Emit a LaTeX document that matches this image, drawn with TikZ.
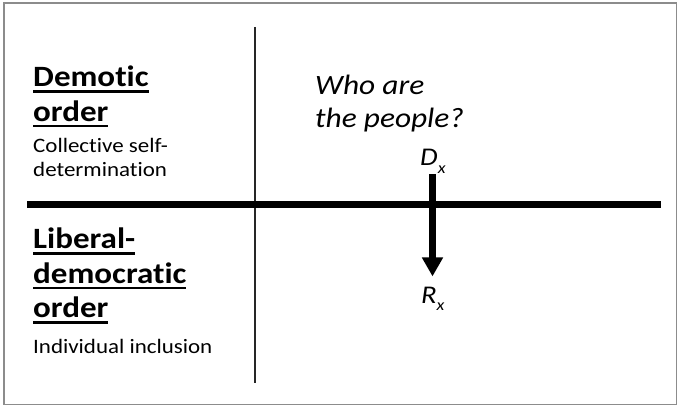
\documentclass[tikz,border=0pt]{standalone}
\usepackage{fontspec}
\setmainfont{Carlito}[FakeStretch=1.12,Ligatures={NoCommon}]
\usetikzlibrary{arrows.meta,positioning}
\newcommand{\ulword}[1]{\setbox0\hbox{#1}\rlap{\rule[-5.8pt]{\wd0}{2.6pt}}\box0}
\newcommand{\subidx}[1]{\raisebox{-7pt}{\fontsize{16}{16}\selectfont #1}}

\begin{document}
\begin{tikzpicture}[x=1pt,y=-1pt,
 txt/.style={inner sep=0pt,align=left},
 hdr/.style={txt,font=\fontsize{29.5}{34.5}\selectfont\bfseries},
 sub/.style={txt,font=\fontsize{20.5}{24}\selectfont},
 ask/.style={txt,font=\fontsize{28}{33}\selectfont\itshape},
 var/.style={inner sep=0pt,font=\fontsize{25.5}{30}\selectfont\itshape},
 flow/.style={line width=7pt,-{Triangle[width=20pt,length=19pt]}}]
 \useasboundingbox (0,0) rectangle (679,406);
 \draw[black!45,line width=1.2pt] (4,3) rectangle (676.5,404.5);
 % axes of the table
 \coordinate (vtop) at (255,27);
 \coordinate (vbot) at (255,383);
 \coordinate (hl) at (27,204.5);
 \coordinate (hr) at (661,204.5);
 \coordinate (cross) at (432.5,204.5);
 \draw[black!85,line width=1.8pt] (vtop)--(vbot);
 \draw[line width=6.5pt] (hl)--(hr);
 % row labels
 \node[hdr,anchor=north west] (demhd) at (33,66) {\ulword{Demotic}\\\ulword{order}};
 \node[sub,below right=11pt and 0pt of demhd.south west] (demsub) {Collective self-\\determination};
 \node[hdr,anchor=north west] (libhd) at (33,228) {\ulword{Liberal-}\\\ulword{democratic}\\\ulword{order}};
 \node[sub,below right=15pt and 0pt of libhd.south west] (libsub) {Individual inclusion};
 % question and shift
 \node[ask,anchor=north west] (who) at (315,75) {Who are\\the people?};
 \node[var,anchor=base west] (dx) at (420,166) {D\subidx{x}};
 \node[var,anchor=base west] (rx) at (421,303) {R\subidx{x}};
 \draw[flow] ([yshift=-1pt]cross |- dx.south)--([yshift=10pt]cross |- rx.north);
\end{tikzpicture}
\end{document}
